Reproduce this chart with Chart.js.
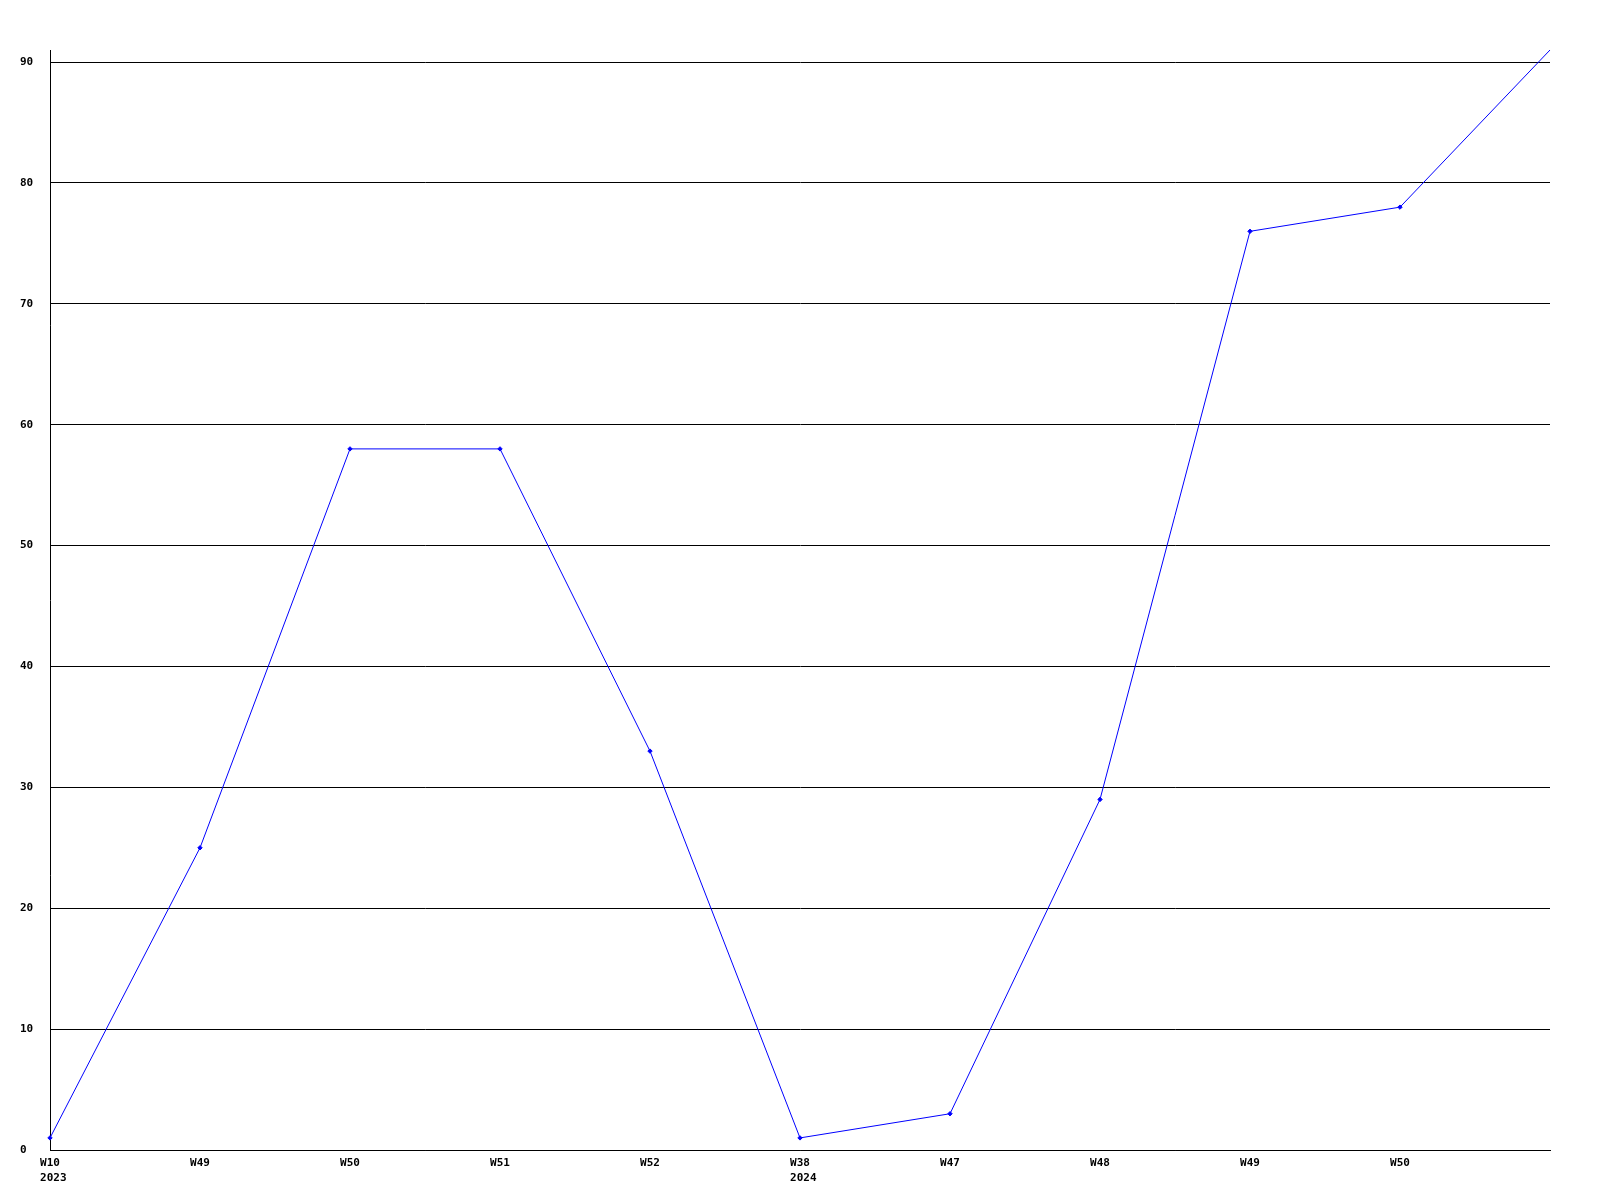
<!DOCTYPE html>
<html>
<head>
<meta charset="utf-8">
<script src="https://cdn.jsdelivr.net/npm/chart.js@4/dist/chart.umd.min.js"></script>
<style>
  html, body { margin: 0; padding: 0; background: #fff; }
  canvas { display: block; }
</style>
</head>
<body>
<canvas id="weekChart" width="1600" height="1200"></canvas>
<script>
// week labels (second line = year, padded so it starts under the week text)
const weekLabels = [['W10', ' 2023'], 'W49', 'W50', 'W51', 'W52', ['W38', ' 2024'], 'W47', 'W48', 'W49', 'W50', ''];
const weekValues = [1, 25, 58, 58, 33, 1, 3, 29, 76, 78, 91];
const yTicks = [0, 10, 20, 30, 40, 50, 60, 70, 80, 90];

const tickFont = { family: 'DejaVu Sans Mono', size: 11, weight: 'bold', lineHeight: 1.35 };

const ctx = document.getElementById('weekChart').getContext('2d');
new Chart(ctx, {
    type: 'line',
    data: {
        labels: weekLabels,
        datasets: [{
            data: weekValues,
            borderColor: '#0000ff',
            backgroundColor: '#0000ff',
            borderWidth: 1,
            pointStyle: 'rectRot',
            pointRadius: c => c.dataIndex === weekValues.length - 1 ? 0 : 2.2,
            pointBorderWidth: 1,
            fill: false, tension: 0
        }]
    },
    options: {
        responsive: false,
        animation: false,
        layout: { padding: { left: 20, top: 50, right: 50, bottom: 0 } },
        plugins: { legend: { display: false }, tooltip: { enabled: false } },
        scales: {
            x: {
                offset: false,
                grid: { display: false, drawTicks: false },
                border: { color: '#000', width: 1 },
                ticks: { color: '#000', font: tickFont, autoSkip: false, maxRotation: 0, padding: 6 },
                afterFit: s => { s.height = 50; }
            },
            y: {
                min: 0, max: 91,
                grid: { color: '#000', lineWidth: 1, drawTicks: false },
                border: { color: '#000', width: 1 },
                ticks: {
                    color: '#000', font: tickFont, crossAlign: 'far', padding: 0,
                    stepSize: 10, includeBounds: false,
                    callback: v => yTicks.includes(v) ? String(v) : null
                },
                afterFit: s => { s.width = 30; }
            }
        }
    }
});
</script>
</body>
</html>
